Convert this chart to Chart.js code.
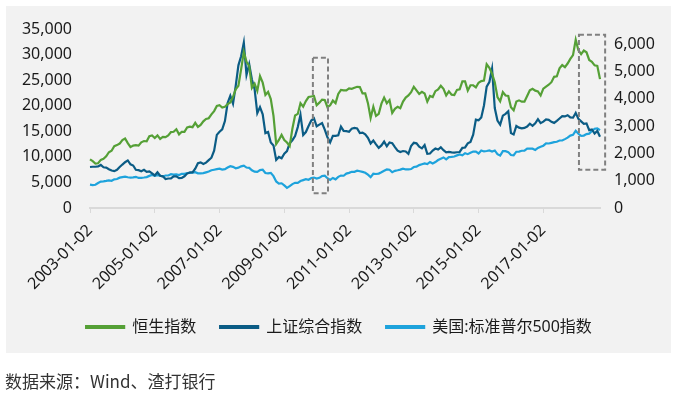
<!DOCTYPE html>
<html>
<head>
<meta charset="utf-8">
<script src="https://cdn.jsdelivr.net/npm/chart.js"></script>
<style>
  html, body { margin: 0; padding: 0; background: #fff; }
  #wrap { width: 678px; height: 398px; position: relative; }
</style>
</head>
<body>
<div id="wrap"><canvas id="idxChart"></canvas></div>
<script>
  // x tick labels, one every 24 months
  const tickLabels = ['2003-01-02', '2005-01-02', '2007-01-02', '2009-01-02',
    '2011-01-02', '2013-01-02', '2015-01-02', '2017-01-02'];
  const rightTicks = [0, 1000, 2000, 3000, 4000, 5000, 6000];

  // monthly points, 2003-01 .. 2018-10
  const months = [];
  for (let y = 2003; y <= 2018; y++) {
    for (let m = 1; m <= 12; m++) {
      if (y === 2018 && m > 10) break;
      months.push(y + '-' + String(m).padStart(2, '0'));
    }
  }

  // 恒生指数 (left axis)
  const hsi = [
    9500, 9150, 8700, 8750, 9400, 9600, 10100, 10900, 11200, 12100, 12300, 12600,
    13300, 13600, 12700, 11900, 12200, 12300, 12200, 12850, 13100, 13050, 14050, 14200,
    13700, 14200, 13500, 13900, 13850, 14200, 14850, 14900, 15400, 14400, 14900, 14900,
    15750, 15900, 15800, 16650, 15850, 16250, 16950, 17400, 17550, 18300, 18950, 19950,
    20100, 19650, 19800, 20300, 20650, 21750, 23200, 23900, 27100, 30500, 28600, 27800,
    23500, 24300, 22900, 25800, 24500, 22100, 22700, 21300, 18000, 12500, 13300, 14300,
    13300, 12800, 12100, 15500, 18100, 18400, 20500, 19800, 20900, 21700, 21800, 21900,
    20100, 20600, 21200, 21100, 19700, 20100, 21000, 20500, 22300, 23100, 23000, 23000,
    23400, 23300, 23500, 23700, 23650, 22400, 22400, 20500, 17600, 19800, 18000, 18400,
    20400, 21600, 20500, 21100, 18600, 19400, 19800, 19500, 20800, 21600, 22000, 22650,
    23700, 23000, 22300, 22700, 22400, 20800, 21900, 21700, 22850, 23200, 23900, 23300,
    22000, 22800, 22150, 22100, 23100, 23200, 24750, 24750, 22950, 24000, 24000, 23600,
    24500, 24800, 24900, 28100, 27400, 26250, 24600, 21700, 20850, 22650, 22000, 21900,
    19700, 19100, 20800, 21050, 20800, 20800, 21900, 23000, 23300, 22950, 22800, 22000,
    23350, 23750, 24100, 24600, 25650, 25750, 27300, 27950, 27550, 28250, 29150, 29900,
    32900, 30850, 30100, 30800, 30450, 28950, 28600, 27900, 27800, 25200
  ];

  // 上证综合指数 (right axis)
  const shcomp = [
    1500, 1510, 1510, 1520, 1575, 1490, 1480, 1420, 1370, 1350, 1400, 1500,
    1590, 1675, 1740, 1600, 1555, 1400, 1385, 1345, 1395, 1320, 1340, 1265,
    1190, 1305, 1180, 1160, 1060, 1080, 1085, 1160, 1155, 1090, 1100, 1160,
    1260, 1300, 1300, 1440, 1640, 1670, 1610, 1660, 1750, 1840, 2100, 2675,
    2790, 2880, 3180, 3840, 4110, 3820, 4470, 5220, 5550, 6050, 4870, 5260,
    4700, 4350, 3470, 3690, 3430, 2740, 2780, 2400, 2290, 1760, 1870, 1820,
    1990, 2080, 2370, 2480, 2630, 2960, 3410, 2670, 2780, 3000, 3200, 3280,
    2990, 3050, 3110, 2870, 2590, 2400, 2640, 2640, 2660, 2980, 2820, 2810,
    2790, 2905, 2930, 2910, 2745, 2760, 2700, 2570, 2360, 2470, 2330, 2200,
    2290, 2430, 2260, 2400, 2370, 2225, 2100, 2050, 2085, 2070, 1980, 2270,
    2385, 2365, 2240, 2180, 2300, 1980, 1995, 2100, 2175, 2140, 2220, 2115,
    2035, 2055, 2035, 2025, 2040, 2050, 2200, 2215, 2365, 2420, 2680, 3235,
    3210, 3310, 3750, 4440, 4610, 5100, 3660, 3200, 3050, 3380, 3445, 3540,
    2740, 2690, 3000, 2940, 2915, 2930, 2980, 3085, 3005, 3100, 3250, 3105,
    3160, 3240, 3225, 3155, 3115, 3190, 3275, 3360, 3350, 3395, 3315, 3305,
    3480, 3260, 3170, 3080, 3095, 2850, 2875, 2725, 2820, 2610
  ];

  // 美国:标准普尔500指数 (right axis)
  const spx = [
    855, 840, 850, 915, 965, 975, 990, 1010, 995, 1050, 1060, 1110,
    1130, 1145, 1125, 1110, 1120, 1140, 1100, 1105, 1115, 1130, 1175, 1210,
    1180, 1205, 1180, 1155, 1190, 1190, 1235, 1220, 1230, 1205, 1250, 1250,
    1280, 1280, 1295, 1310, 1270, 1270, 1275, 1305, 1335, 1380, 1400, 1420,
    1440, 1405, 1420, 1480, 1530, 1505, 1455, 1475, 1525, 1550, 1480, 1470,
    1380, 1330, 1320, 1385, 1400, 1280, 1265, 1285, 1165, 970, 895, 905,
    825, 735, 800, 875, 920, 920, 985, 1020, 1055, 1035, 1095, 1115,
    1075, 1105, 1170, 1185, 1090, 1030, 1100, 1050, 1140, 1185, 1180, 1260,
    1285, 1325, 1325, 1365, 1345, 1320, 1290, 1220, 1130, 1255, 1245, 1260,
    1310, 1365, 1410, 1400, 1310, 1360, 1380, 1405, 1440, 1410, 1415, 1425,
    1500, 1515, 1570, 1600, 1630, 1605, 1685, 1630, 1680, 1755, 1805, 1850,
    1780, 1860, 1870, 1885, 1925, 1960, 1930, 2005, 1970, 2020, 2065, 2060,
    1995, 2105, 2070, 2085, 2105, 2065, 2105, 1970, 1920, 2080, 2080, 2045,
    1940, 1930, 2060, 2065, 2095, 2100, 2175, 2170, 2170, 2125, 2200, 2240,
    2280, 2365, 2360, 2385, 2410, 2425, 2470, 2470, 2520, 2575, 2650, 2675,
    2825, 2715, 2640, 2650, 2705, 2720, 2815, 2900, 2915, 2850
  ];

  const seriesNames = ['恒生指数', '上证综合指数', '美国:标准普尔500指数'];
  const seriesColors = ['#55a036', '#0b5c85', '#1ea3dc'];

  // dashed highlight boxes, in data units (x = month index, y = left axis)
  const boxes = [
    { xMin: 82.6, xMax: 88.2, yMin: 2900, yMax: 29400 },
    { xMin: 181.2, xMax: 190.9, yMin: 7500, yMax: 33900 }
  ];

  const FONT = "'Noto Sans', 'Noto Sans CJK SC', sans-serif";

  const panelBg = {
    id: 'panelBg',
    beforeDraw(chart) {
      const c = chart.ctx;
      c.save();
      c.fillStyle = '#f2f2f2';
      c.fillRect(6, 6, 665, 347);
      c.restore();
    }
  };

  const dashBoxes = {
    id: 'dashBoxes',
    afterDatasetsDraw(chart) {
      const c = chart.ctx, xs = chart.scales.x, ys = chart.scales.y;
      c.save();
      c.strokeStyle = '#808080';
      c.lineWidth = 2;
      c.setLineDash([5, 3]);
      boxes.forEach(b => {
        const x1 = xs.getPixelForValue(b.xMin), x2 = xs.getPixelForValue(b.xMax);
        const y1 = ys.getPixelForValue(b.yMax), y2 = ys.getPixelForValue(b.yMin);
        c.strokeRect(x1, y1, x2 - x1, y2 - y1);
      });
      c.restore();
    }
  };

  const footer = {
    id: 'footer',
    afterDraw(chart) {
      const c = chart.ctx;
      c.save();
      c.fillStyle = '#333';
      c.font = "17px 'Noto Sans CJK SC', sans-serif";
      c.textBaseline = 'middle';
      c.fillText('数据来源：Wind、渣打银行', 5, 382);
      c.restore();
    }
  };

  const datasets = [hsi, shcomp, spx].map((d, i) => ({
    label: seriesNames[i],
    data: d,
    yAxisID: i === 0 ? 'y' : 'y1',
    borderColor: seriesColors[i],
    backgroundColor: seriesColors[i],
    borderWidth: 2.2,
    pointRadius: 0,
    tension: 0
  }));

  new Chart(document.getElementById('idxChart'), {
    type: 'line',
    data: { labels: months, datasets: datasets },
    plugins: [panelBg, dashBoxes, footer],
    options: {
      responsive: true,
      maintainAspectRatio: false,
      animation: false,
      layout: { padding: { top: 29, left: 0, right: 0, bottom: 53 } },
      plugins: {
        tooltip: { enabled: false },
        legend: {
          position: 'bottom',
          labels: {
            boxWidth: 38,
            boxHeight: 2,
            padding: 24,
            color: '#1a1a1a',
            font: { family: FONT, size: 16 }
          }
        }
      },
      scales: {
        x: {
          afterFit: s => { s.height = 87; },
          grid: { display: true, drawOnChartArea: false, color: '#d9d9d9', tickLength: 5 },
          border: { color: '#d9d9d9', width: 2 },
          ticks: {
            autoSkip: false,
            minRotation: 45,
            maxRotation: 45,
            padding: 8,
            color: '#1a1a1a',
            font: { family: FONT, size: 16 },
            callback: (v, i) => (i % 24 === 0 ? tickLabels[i / 24] : null)
          }
        },
        y: {
          position: 'left',
          min: 0,
          max: 35000,
          afterFit: s => { s.width = 90; },
          grid: { display: false },
          border: { display: false },
          ticks: {
            stepSize: 5000,
            padding: 10,
            color: '#1a1a1a',
            font: { family: FONT, size: 16 },
            callback: v => v.toLocaleString('en-US')
          }
        },
        y1: {
          position: 'right',
          min: 0,
          max: 6550,
          afterFit: s => { s.width = 78; },
          afterBuildTicks: s => { s.ticks = rightTicks.map(v => ({ value: v })); },
          grid: { display: false },
          border: { display: false },
          ticks: {
            autoSkip: false,
            padding: 6,
            color: '#1a1a1a',
            font: { family: FONT, size: 16 },
            callback: v => v.toLocaleString('en-US')
          }
        }
      }
    }
  });
</script>
</body>
</html>
